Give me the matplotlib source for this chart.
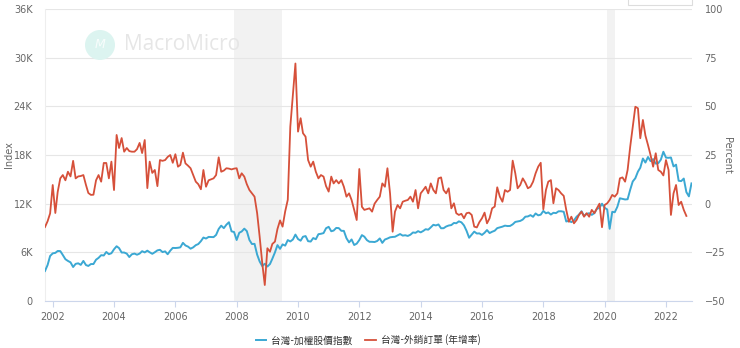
import numpy as np
import pandas as pd
import matplotlib
matplotlib.use('Agg')
import matplotlib.pyplot as plt
import matplotlib.dates as mdates
from matplotlib.patches import Ellipse, Rectangle

# TAIEX monthly level, Oct 2001 - Nov 2022
taiex = [
    3700, 4441, 5551,
    5872, 5931, 6167, 6154, 5675, 5153, 4941, 4764, 4191, 4579, 4646, 4452,
    4940, 4432, 4321, 4556, 4556, 5092, 5318, 5650, 5611, 6045, 5771, 5890,
    6375, 6750, 6522, 5977, 5977, 5839, 5420, 5765, 5845, 5706, 5844, 6140,
    5994, 6207, 6006, 5819, 6011, 6242, 6312, 6033, 6118, 5764, 6203, 6548,
    6532, 6561, 6614, 7171, 6847, 6704, 6451, 6611, 6884, 7021, 7376, 7823,
    7699, 7901, 7884, 7875, 8145, 8883, 9287, 8982, 9411, 9711, 8586, 8506,
    7521, 8413, 8572, 8920, 8619, 7523, 7024, 7046, 5719, 4871, 4300, 4591,
    4248, 4557, 5210, 5993, 6890, 6432, 6979, 6826, 7509, 7340, 7582, 8188,
    7640, 7436, 7920, 8004, 7374, 7329, 7761, 7616, 8238, 8287, 8372, 8973,
    9145, 8600, 8683, 9008, 8988, 8653, 8644, 7741, 7225, 7588, 6904, 7072,
    7517, 8121, 7933, 7501, 7301, 7296, 7270, 7397, 7715, 7166, 7580, 7700,
    7850, 7897, 7919, 8093, 8254, 8062, 8107, 8022, 8174, 8450, 8407, 8612,
    8462, 8640, 8849, 8792, 9075, 9393, 9315, 9436, 8967, 8974, 9187, 9307,
    9362, 9622, 9586, 9820, 9701, 9323, 8665, 7800, 8181, 8554, 8320, 8338,
    8145, 8411, 8745, 8377, 8536, 8666, 8984, 9069, 9167, 9290, 9240, 9254,
    9448, 9750, 9812, 9872, 10041, 10395, 10427, 10586, 10384, 10794, 10560, 10643,
    11104, 10815, 10919, 10658, 10875, 10837, 11057, 11064, 10998, 9802, 9888, 9727,
    9932, 10389, 10641, 11063, 10499, 10731, 10824, 10618, 10830, 11358, 11489, 11997,
    11495, 11292, 8900, 10992, 10943, 11621, 12665, 12592, 12516, 12546, 13723, 14733,
    15138, 15953, 16431, 17567, 17068, 17755, 17247, 17490, 16935, 16987, 17428, 18400,
    17674, 17652, 17693, 16592, 16807, 14825, 14778, 15095, 13425, 12900, 14500,
]

# export orders, year-over-year %, Oct 2001 - Sep 2022
orders_yoy = [
    -12, -9, -5,
    9.6, -4.8, 6, 13, 14.7, 12, 16.4, 14, 22, 13, 14, 14.2,
    14.7, 9.6, 5.5, 4.5, 4.6, 12, 14.7, 11.3, 20.9, 20.9, 13, 21.6,
    7, 35.3, 28.6, 33.7, 26.7, 28.6, 27, 26.7, 26.7, 28, 31.2, 26,
    32.7, 8, 21.6, 15.8, 17.3, 9, 22.4, 22, 22.4, 24, 25, 21,
    25.4, 19, 19.9, 26.2, 20.7, 19.5, 18.2, 14.7, 11.3, 10, 7.4, 17.3,
    8.7, 12, 12.5, 13, 14.7, 23.8, 16.4, 17, 18.2, 18, 17.6, 18,
    18.2, 13, 15.6, 13.9, 10, 7, 5.3, 3.6, -4.9, -17, -30.6, -41.8,
    -22.9, -24.7, -20.7, -19.5, -13, -8.6, -11.8, -4, 2, 39.5, 56, 72,
    37, 43.9, 36.2, 34.4, 22.4, 19, 21.6, 16.4, 13, 14.7, 13.9, 9,
    6.2, 13.9, 10.4, 12.1, 10.4, 12.1, 8.7, 3.6, 5.3, 1.9, -3.2, -8.4,
    17.8, -1.6, -3.2, -2.8, -2.4, -4.1, 0, 1.9, 3.6, 10.4, 8.7, 18.2,
    5.3, -14.4, -4.1, -0.7, -2.4, 1, 1.5, 1.9, 3.6, 1, 7, -2.4,
    5.3, 7, 8.7, 5.3, 10.4, 7, 5.3, 13, 13.5, 7, 5.3, 7.9,
    -2.4, 0.2, -4.9, -5.8, -5.2, -7.5, -4.9, -4.6, -5.8, -11.8, -12.2, -9.5,
    -7.5, -4.6, -10.1, -7.5, -2.4, -1.5, 8.4, 3.6, 1, 7, 6.1, 7,
    22.1, 15.6, 7.9, 9.6, 13, 10.8, 7.9, 8.7, 11.3, 15.6, 19, 21,
    -2.9, 7, 11.3, 12.1, 0.2, 7.9, 7, 5.3, 4, -3.2, -9.3, -6.7,
    -10.1, -8.4, -5.8, -4.1, -6.7, -4.9, -6.7, -3.2, -4.9, -2.4, 0, -12.1,
    -0.7, 0.2, 1.9, 4.5, 3.6, 5.3, 13, 13.5, 11.3, 17.3, 29.3, 39.5,
    49.8, 49, 33.6, 43, 35, 30.1, 25, 19, 25.9, 17.3, 16.4, 14.5,
    22.4, 17.3, -5.8, 5.3, 9.6, -0.7, 1, -3.2, -6.3,
]

recessions = [('2007-12-01', '2009-06-30'), ('2020-02-01', '2020-04-30')]

left_ticks = [0, 6000, 12000, 18000, 24000, 30000, 36000]
left_labels = ['0', '6K', '12K', '18K', '24K', '30K', '36K']
right_ticks = [-50, -25, 0, 25, 50, 75, 100]
year_ticks = list(range(2002, 2023, 2))

label_taiex = '台灣-加權股價指數'
label_orders = '台灣-外銷訂單 (年增率)'

blue = '#3ba8d3'
red = '#d6503a'
tick_color = '#666666'
cjk = ['Noto Sans CJK TC', 'DejaVu Sans']

dates_taiex = pd.date_range('2001-10-01', periods=len(taiex), freq='MS')
dates_orders = pd.date_range('2001-10-01', periods=len(orders_yoy), freq='MS')

W, H = 740, 348
fig = plt.figure(figsize=(W / 100, H / 100), dpi=100)
ax = fig.add_axes([45 / W, 1 - 301 / H, (692 - 45) / W, (301 - 9) / H])
ax2 = ax.twinx()

for a, b in recessions:
    ax.axvspan(pd.Timestamp(a), pd.Timestamp(b), color='#f2f2f2', lw=0, zorder=0)

ax.plot(dates_taiex, taiex, color=blue, lw=1.4, zorder=3)
ax2.plot(dates_orders, orders_yoy, color=red, lw=1.3, zorder=3)

ax.set_xlim(pd.Timestamp('2001-10-01'), pd.Timestamp('2022-11-07'))
ax.set_ylim(0, 36000)
ax2.set_ylim(-50, 100)

ax.set_yticks(left_ticks)
ax.set_yticklabels(left_labels)
ax2.set_yticks(right_ticks)
ax.set_xticks([pd.Timestamp(f'{y}-01-01') for y in year_ticks])
ax.xaxis.set_major_formatter(mdates.DateFormatter('%Y'))

ax.grid(axis='y', color='#e6e6e6', lw=0.8)
ax.set_axisbelow(True)

for a in (ax, ax2):
    for s in ('top', 'right', 'left', 'bottom'):
        a.spines[s].set_visible(False)
ax.spines['bottom'].set_visible(True)
ax.spines['bottom'].set_color('#ccd6eb')
ax.spines['left'].set_visible(True)
ax.spines['left'].set_color('#eeeeee')

ax.tick_params(axis='y', length=0, pad=9, labelsize=7, labelcolor=tick_color)
ax2.tick_params(axis='y', length=0, pad=9, labelsize=7, labelcolor=tick_color)
ax.tick_params(axis='x', length=4, width=0.8, color='#ccd6eb', pad=4,
               labelsize=7, labelcolor=tick_color)

fig.text(9 / W, 1 - 155 / H, 'Index', rotation=90, ha='center', va='center',
         fontsize=7, color=tick_color)
fig.text(727 / W, 1 - 155 / H, 'Percent', rotation=270, ha='center', va='center',
         fontsize=7, color=tick_color)

# watermark
fig.patches.append(Ellipse((100 / W, 1 - 45 / H), 30 / W, 30 / H,
                           transform=fig.transFigure, facecolor='#dcf4f0',
                           edgecolor='none', zorder=1))
fig.text(100 / W, 1 - 45 / H, 'M', fontsize=9, color='white', ha='center',
         va='center', style='italic', alpha=0.8, zorder=2)
fig.text(124 / W, 1 - 45 / H, 'MacroMicro', fontsize=15, color='#e6e6e6',
         ha='left', va='center', family='Open Sans', zorder=1)

# partial button frame at top right
fig.patches.append(Rectangle((628 / W, 1 - 5 / H), 64 / W, 8 / H,
                             transform=fig.transFigure, facecolor='white',
                             edgecolor='#dddddd', lw=0.8))

h1, = ax.plot([], [], color=blue, lw=1.4)
h2, = ax.plot([], [], color=red, lw=1.3)
fig.legend([h1, h2], [label_taiex, label_orders], loc='center',
           bbox_to_anchor=(368 / W, 1 - 340 / H), ncol=2, frameon=False,
           handlelength=1.1, handletextpad=0.5, columnspacing=1.3,
           prop={'family': cjk, 'size': 7}, labelcolor='#333333')

fig.savefig('out.png', dpi=100)
